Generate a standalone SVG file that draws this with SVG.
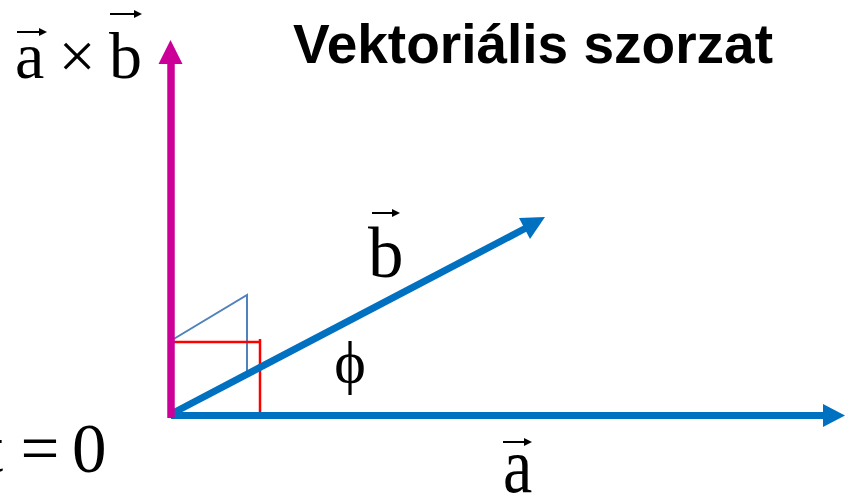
<svg xmlns="http://www.w3.org/2000/svg" width="845" height="493" viewBox="0 0 845 493">
<style>
.m{font-family:"Liberation Serif","Times New Roman","DejaVu Serif",serif;fill:#000}
.t{font-family:"Liberation Sans",Arial,sans-serif;font-weight:bold;fill:#000}
.va{stroke:#000;stroke-width:2;fill:none}
.ah{fill:#000}
</style>
<rect width="845" height="493" fill="#fff"/>
<g id="title"><text class="t" x="293" y="63" font-size="55" textLength="480" lengthAdjust="spacingAndGlyphs">Vektoriális szorzat</text></g>
<g id="connectors">
<g id="helper-lines">
<polyline points="172,340 247,295 247,374" fill="none" stroke="#4F81BD" stroke-width="2"/>
<line x1="172" y1="342" x2="261" y2="342" stroke="#FF0000" stroke-width="2.5"/>
<line x1="260" y1="339" x2="260" y2="415" stroke="#FF0000" stroke-width="2.5"/>
</g>
<g id="vec-a">
<line x1="171" y1="415.5" x2="825" y2="415.5" stroke="#0070C0" stroke-width="7"/>
<polygon points="823,404 845,415.5 823,427" fill="#0070C0"/>
</g>
<g id="vec-b">
<line x1="173" y1="413" x2="526" y2="228" stroke="#0070C0" stroke-width="7"/>
<polygon points="545,217 519,218 530,239" fill="#0070C0"/>
</g>
<g id="vec-axb">
<line x1="171" y1="418" x2="171" y2="62" stroke="#CC0099" stroke-width="7.5"/>
<polygon points="170.5,40 158.5,64 182.5,64" fill="#CC0099"/>
</g>
</g>
<g id="label-axb">
<text class="m" x="15" y="78" font-size="66">a</text>
<text class="m" x="77" y="78" font-size="66" text-anchor="middle">×</text>
<text class="m" x="109" y="78" font-size="66">b</text>
<line class="va" x1="17" y1="32" x2="44" y2="32"/>
<polygon class="ah" points="47,32 39,28 39,36"/>
<line class="va" x1="110" y1="14" x2="139" y2="14"/>
<polygon class="ah" points="142,14 134,10 134,18"/>
</g>
<g id="label-b">
<text class="m" x="368" y="277" font-size="71">b</text>
<line class="va" x1="372" y1="213" x2="397" y2="213"/>
<polygon class="ah" points="400,213 392,209 392,217"/>
</g>
<g id="label-phi">
<text class="m" x="350" y="382" font-size="60" text-anchor="middle">ϕ</text>
</g>
<g id="label-a">
<text class="m" x="503" y="492" font-size="66" transform="translate(0,492) scale(1,1.2) translate(0,-492)">a</text>
<line class="va" x1="503" y1="442" x2="529" y2="442"/>
<polygon class="ah" points="532,442 524,438 524,446"/>
</g>
<g id="label-t0">
<text class="m" x="-16" y="472" font-size="69">t</text>
<text class="m" x="40" y="472" font-size="69" text-anchor="middle">=</text>
<text class="m" x="72" y="472" font-size="69">0</text>
</g>
</svg>
